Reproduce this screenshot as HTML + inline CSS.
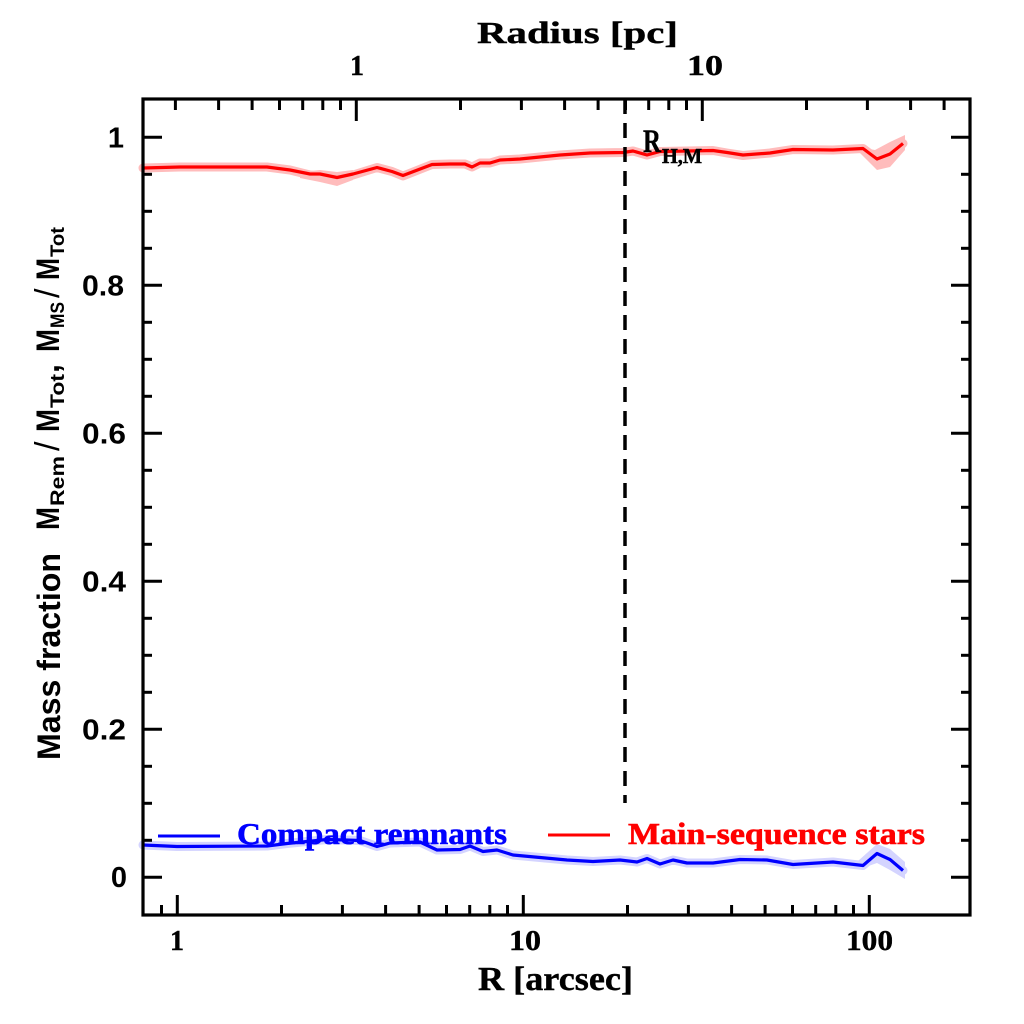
<!DOCTYPE html>
<html>
<head>
<meta charset="utf-8">
<style>
  html, body { margin: 0; padding: 0; background: #ffffff; }
  svg { display: block; }
  .serif { font-family: "Liberation Serif", "DejaVu Serif", serif; font-weight: bold; }
  .sans { font-family: "Liberation Sans", "DejaVu Sans", sans-serif; font-weight: bold; }
</style>
</head>
<body>
<svg width="1024" height="1024" viewBox="0 0 1024 1024" xmlns="http://www.w3.org/2000/svg">
  <rect x="0" y="0" width="1024" height="1024" fill="#ffffff"/>

  <polyline fill="none" stroke="#ffbcbc" stroke-width="9" stroke-linejoin="round" stroke-linecap="round" points="143,168 180,167 267,167 290,170 310,175 320,176 337,179 353,175 377,167.5 392,171.5 403,176 432,164.5 450,164 465,164 472,167 480,163 490,163 500,160 520,159 560,155 590,153 623,152.5 633,151 647,155 660,151.5 713,150.5 727,153 743,155.5 770,153 793,149.5 833,150 863,148.5 877,159 890,154 903,143.5"/>
  <polygon fill="#ffbcbc" points="858,147 875,150 890,142 905,135 905,150 890,167 877,170 860,153"/>
  <polygon fill="#ffbcbc" points="300,172 320,170 337,172 353,170 353,180 337,186 320,182 300,178"/>
  <polyline fill="none" stroke="#d4d4ff" stroke-width="9" stroke-linejoin="round" stroke-linecap="round" points="143,845 177,846.5 267,846 287,843.5 327,839.5 345,840 360,840.5 377,846.5 390,843 420,842 437,850 460,849.5 470,846 483,851.5 497,850 513,855 540,857.5 567,860 593,861.5 620,860 637,862 647,858.5 660,864 673,860 687,863 713,863 740,859.5 767,860 793,864.5 833,862 863,865.5 877,853.5 890,859.5 903,870.5"/>
  <polygon fill="#d4d4ff" points="858,861 877,844 890,849 905,862 905,879 890,870 877,863 860,869"/>

  <polyline fill="none" stroke="#ff0000" stroke-width="3.2" stroke-linejoin="round" points="143,168 180,167 267,167 290,170 310,174 320,174 337,177.5 353,174 377,167.5 392,171.5 403,175.5 432,164.5 450,164 465,164 472,167 480,163 490,163 500,160 520,159 560,155 590,153 623,152.5 633,151 647,155 660,151.5 713,150.5 727,152.5 743,155 770,153 793,149.5 833,150 863,148.5 877,159 890,154 903,143.5"/>
  <polyline fill="none" stroke="#0000ff" stroke-width="3.2" stroke-linejoin="round" points="143,845 177,846.5 267,846 287,843.5 327,839.5 345,840 360,840.5 377,846.5 390,843 420,842 437,850 460,849.5 470,846 483,851.5 497,850 513,855 540,857.5 567,860 593,861.5 620,860 637,862 647,858.5 660,864 673,860 687,863 713,863 740,859.5 767,860 793,864.5 833,862 863,865.5 877,853.5 890,859.5 903,870.5"/>

  <line x1="625" y1="99" x2="625" y2="803" stroke="#000" stroke-width="3.5" stroke-dasharray="15 9"/>

  <rect x="143" y="99" width="827" height="816" fill="none" stroke="#000" stroke-width="3.2"/>

  <g stroke="#000" stroke-width="3">
    <line x1="161.5" y1="915" x2="161.5" y2="905"/>
    <line x1="177.3" y1="915" x2="177.3" y2="895"/>
    <line x1="281.5" y1="915" x2="281.5" y2="905"/>
    <line x1="342.4" y1="915" x2="342.4" y2="905"/>
    <line x1="385.6" y1="915" x2="385.6" y2="905"/>
    <line x1="419.1" y1="915" x2="419.1" y2="905"/>
    <line x1="446.5" y1="915" x2="446.5" y2="905"/>
    <line x1="469.7" y1="915" x2="469.7" y2="905"/>
    <line x1="489.8" y1="915" x2="489.8" y2="905"/>
    <line x1="507.5" y1="915" x2="507.5" y2="905"/>
    <line x1="523.3" y1="915" x2="523.3" y2="895"/>
    <line x1="627.5" y1="915" x2="627.5" y2="905"/>
    <line x1="688.4" y1="915" x2="688.4" y2="905"/>
    <line x1="731.6" y1="915" x2="731.6" y2="905"/>
    <line x1="765.1" y1="915" x2="765.1" y2="905"/>
    <line x1="792.5" y1="915" x2="792.5" y2="905"/>
    <line x1="815.7" y1="915" x2="815.7" y2="905"/>
    <line x1="835.8" y1="915" x2="835.8" y2="905"/>
    <line x1="853.5" y1="915" x2="853.5" y2="905"/>
    <line x1="869.3" y1="915" x2="869.3" y2="895"/>
    <line x1="175.4" y1="99" x2="175.4" y2="110"/>
    <line x1="218.6" y1="99" x2="218.6" y2="110"/>
    <line x1="252.1" y1="99" x2="252.1" y2="110"/>
    <line x1="279.5" y1="99" x2="279.5" y2="110"/>
    <line x1="302.7" y1="99" x2="302.7" y2="110"/>
    <line x1="322.8" y1="99" x2="322.8" y2="110"/>
    <line x1="340.5" y1="99" x2="340.5" y2="110"/>
    <line x1="356.3" y1="99" x2="356.3" y2="121"/>
    <line x1="460.5" y1="99" x2="460.5" y2="110"/>
    <line x1="521.4" y1="99" x2="521.4" y2="110"/>
    <line x1="564.6" y1="99" x2="564.6" y2="110"/>
    <line x1="598.1" y1="99" x2="598.1" y2="110"/>
    <line x1="625.5" y1="99" x2="625.5" y2="110"/>
    <line x1="648.7" y1="99" x2="648.7" y2="110"/>
    <line x1="668.8" y1="99" x2="668.8" y2="110"/>
    <line x1="686.5" y1="99" x2="686.5" y2="110"/>
    <line x1="702.3" y1="99" x2="702.3" y2="121"/>
    <line x1="806.5" y1="99" x2="806.5" y2="110"/>
    <line x1="867.4" y1="99" x2="867.4" y2="110"/>
    <line x1="910.6" y1="99" x2="910.6" y2="110"/>
    <line x1="944.1" y1="99" x2="944.1" y2="110"/>
    <line x1="143" y1="877.3" x2="162" y2="877.3"/>
    <line x1="143" y1="840.3" x2="152" y2="840.3"/>
    <line x1="143" y1="803.3" x2="152" y2="803.3"/>
    <line x1="143" y1="766.3" x2="152" y2="766.3"/>
    <line x1="143" y1="729.3" x2="162" y2="729.3"/>
    <line x1="143" y1="692.3" x2="152" y2="692.3"/>
    <line x1="143" y1="655.3" x2="152" y2="655.3"/>
    <line x1="143" y1="618.3" x2="152" y2="618.3"/>
    <line x1="143" y1="581.3" x2="162" y2="581.3"/>
    <line x1="143" y1="544.3" x2="152" y2="544.3"/>
    <line x1="143" y1="507.3" x2="152" y2="507.3"/>
    <line x1="143" y1="470.3" x2="152" y2="470.3"/>
    <line x1="143" y1="433.3" x2="162" y2="433.3"/>
    <line x1="143" y1="396.3" x2="152" y2="396.3"/>
    <line x1="143" y1="359.3" x2="152" y2="359.3"/>
    <line x1="143" y1="322.3" x2="152" y2="322.3"/>
    <line x1="143" y1="285.3" x2="162" y2="285.3"/>
    <line x1="143" y1="248.3" x2="152" y2="248.3"/>
    <line x1="143" y1="211.3" x2="152" y2="211.3"/>
    <line x1="143" y1="174.3" x2="152" y2="174.3"/>
    <line x1="143" y1="137.3" x2="162" y2="137.3"/>
    <line x1="970" y1="877.3" x2="951" y2="877.3"/>
    <line x1="970" y1="840.3" x2="961" y2="840.3"/>
    <line x1="970" y1="803.3" x2="961" y2="803.3"/>
    <line x1="970" y1="766.3" x2="961" y2="766.3"/>
    <line x1="970" y1="729.3" x2="951" y2="729.3"/>
    <line x1="970" y1="692.3" x2="961" y2="692.3"/>
    <line x1="970" y1="655.3" x2="961" y2="655.3"/>
    <line x1="970" y1="618.3" x2="961" y2="618.3"/>
    <line x1="970" y1="581.3" x2="951" y2="581.3"/>
    <line x1="970" y1="544.3" x2="961" y2="544.3"/>
    <line x1="970" y1="507.3" x2="961" y2="507.3"/>
    <line x1="970" y1="470.3" x2="961" y2="470.3"/>
    <line x1="970" y1="433.3" x2="951" y2="433.3"/>
    <line x1="970" y1="396.3" x2="961" y2="396.3"/>
    <line x1="970" y1="359.3" x2="961" y2="359.3"/>
    <line x1="970" y1="322.3" x2="961" y2="322.3"/>
    <line x1="970" y1="285.3" x2="951" y2="285.3"/>
    <line x1="970" y1="248.3" x2="961" y2="248.3"/>
    <line x1="970" y1="211.3" x2="961" y2="211.3"/>
    <line x1="970" y1="174.3" x2="961" y2="174.3"/>
    <line x1="970" y1="137.3" x2="951" y2="137.3"/>
  </g>

  <line x1="158" y1="836" x2="220" y2="836" stroke="#0000ff" stroke-width="3"/>
  <line x1="548" y1="835" x2="610" y2="835" stroke="#ff0000" stroke-width="3"/>

  <text class="serif" x="237" y="844" font-size="31" fill="#0000ff" stroke="#0000ff" stroke-width="0.6" textLength="270" lengthAdjust="spacingAndGlyphs">Compact remnants</text>
  <text class="serif" x="628" y="844" font-size="31" fill="#ff0000" stroke="#ff0000" stroke-width="0.6" textLength="297" lengthAdjust="spacingAndGlyphs">Main-sequence stars</text>

  <text class="serif" x="643" y="152" font-size="33" fill="#000" stroke="#000" stroke-width="0.4" textLength="18" lengthAdjust="spacingAndGlyphs">R</text>
  <text class="serif" x="662" y="163" font-size="21" fill="#000" stroke="#000" stroke-width="0.5" textLength="40" lengthAdjust="spacingAndGlyphs">H,M</text>

  <text class="serif" x="477" y="43" font-size="31" fill="#000" stroke="#000" stroke-width="0.4" textLength="201" lengthAdjust="spacingAndGlyphs">Radius [pc]</text>
  <text class="serif" x="350" y="75" font-size="29" fill="#000" stroke="#000" stroke-width="0.4" textLength="14" lengthAdjust="spacingAndGlyphs">1</text>
  <text class="serif" x="687" y="75" font-size="29" fill="#000" stroke="#000" stroke-width="0.4" textLength="36" lengthAdjust="spacingAndGlyphs">10</text>

  <text class="serif" x="170" y="950" font-size="29" fill="#000" stroke="#000" stroke-width="0.4" textLength="14" lengthAdjust="spacingAndGlyphs">1</text>
  <text class="serif" x="509" y="950" font-size="29" fill="#000" stroke="#000" stroke-width="0.4" textLength="32" lengthAdjust="spacingAndGlyphs">10</text>
  <text class="serif" x="846" y="950" font-size="29" fill="#000" stroke="#000" stroke-width="0.4" textLength="47" lengthAdjust="spacingAndGlyphs">100</text>
  <text class="serif" x="478" y="990" font-size="34" fill="#000" stroke="#000" stroke-width="0.4" textLength="155" lengthAdjust="spacingAndGlyphs">R [arcsec]</text>

  <text class="sans" x="127" y="887" font-size="29" fill="#000" text-anchor="end">0</text>
  <text class="sans" x="82" y="739.5" font-size="29" fill="#000" textLength="44" lengthAdjust="spacingAndGlyphs">0.2</text>
  <text class="sans" x="82" y="591.5" font-size="29" fill="#000" textLength="44" lengthAdjust="spacingAndGlyphs">0.4</text>
  <text class="sans" x="82" y="443.5" font-size="29" fill="#000" textLength="44" lengthAdjust="spacingAndGlyphs">0.6</text>
  <text class="sans" x="82" y="295.5" font-size="29" fill="#000" textLength="42" lengthAdjust="spacingAndGlyphs">0.8</text>
  <text class="sans" x="124" y="147.5" font-size="29" fill="#000" text-anchor="end">1</text>

  <g class="sans" fill="#000">
    <text transform="translate(60,760) rotate(-90)" font-size="32" textLength="207" lengthAdjust="spacingAndGlyphs">Mass fraction</text>
    <text transform="translate(59,530) rotate(-90)" font-size="32" textLength="23" lengthAdjust="spacingAndGlyphs">M</text>
    <text transform="translate(64,506) rotate(-90)" font-size="19" textLength="50" lengthAdjust="spacingAndGlyphs">Rem</text>
    <text transform="translate(59,451) rotate(-90)" font-size="34" font-weight="normal">/</text>
    <text transform="translate(59,432) rotate(-90)" font-size="32" textLength="23" lengthAdjust="spacingAndGlyphs">M</text>
    <text transform="translate(64,408) rotate(-90)" font-size="19" textLength="34" lengthAdjust="spacingAndGlyphs">Tot</text>
    <text transform="translate(59,373) rotate(-90)" font-size="32">,</text>
    <text transform="translate(59,352) rotate(-90)" font-size="32" textLength="23" lengthAdjust="spacingAndGlyphs">M</text>
    <text transform="translate(64,328) rotate(-90)" font-size="19" textLength="26" lengthAdjust="spacingAndGlyphs">MS</text>
    <text transform="translate(59,298) rotate(-90)" font-size="34" font-weight="normal">/</text>
    <text transform="translate(59,280) rotate(-90)" font-size="32" textLength="22" lengthAdjust="spacingAndGlyphs">M</text>
    <text transform="translate(64,257) rotate(-90)" font-size="19" textLength="30" lengthAdjust="spacingAndGlyphs">Tot</text>
  </g>
</svg>
</body>
</html>
